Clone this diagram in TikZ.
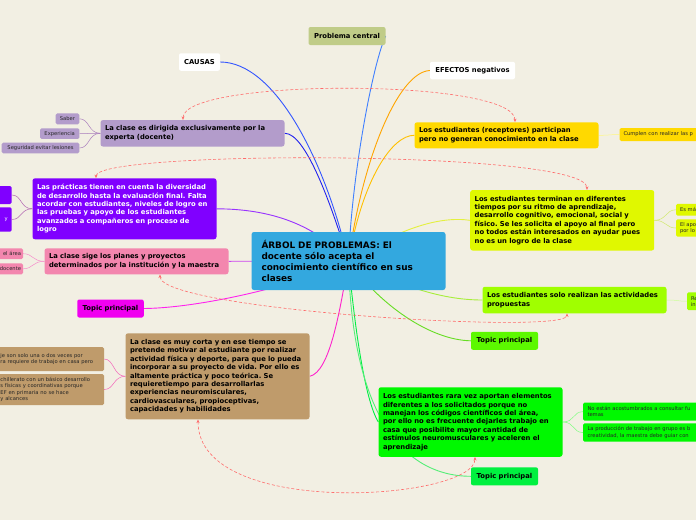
\documentclass[tikz,border=0pt]{standalone}
\usepackage{fontspec}
\setmainfont{DejaVu Sans}
\usetikzlibrary{arrows.meta}
\frenchspacing

\definecolor{bgpaper}{HTML}{F2EFE3}
\definecolor{centralblue}{HTML}{33A8DF}
\definecolor{olive}{HTML}{C0CC88}
\definecolor{lavender}{HTML}{B39CCB}
\definecolor{violetbox}{HTML}{8000FF}
\definecolor{pinkbox}{HTML}{F386AE}
\definecolor{magentatopic}{HTML}{F000F0}
\definecolor{brownbox}{HTML}{BF9B6B}
\definecolor{yellowbox}{HTML}{FFD900}
\definecolor{ygbox}{HTML}{E0F800}
\definecolor{limebox}{HTML}{A0FF00}
\definecolor{limetopic}{HTML}{5CF800}
\definecolor{greenbox}{HTML}{00F800}
\definecolor{greentopic}{HTML}{00F040}
\definecolor{linkred}{HTML}{FF6B6B}
% branch colours
\definecolor{problemaline}{HTML}{3F7FFF}
\definecolor{causasline}{HTML}{3355FF}
\definecolor{expertaline}{HTML}{2222EE}
\definecolor{efectosline}{HTML}{FFA500}
\definecolor{receptoresline}{HTML}{FFC000}
\definecolor{ritmoline}{HTML}{E4F040}
\definecolor{diversidadline}{HTML}{9933FF}
\definecolor{planesline}{HTML}{CC44EE}
\definecolor{topicmagline}{HTML}{FF22EE}
\definecolor{cortaline}{HTML}{FF22CC}
\definecolor{actividadesline}{HTML}{A8EE3A}
\definecolor{topiclimeline}{HTML}{66DD22}
\definecolor{codigosline}{HTML}{00EE44}
\definecolor{topicgreenline}{HTML}{55EE77}

\pgfdeclarelayer{paper}
\pgfdeclarelayer{edges}
\pgfsetlayers{paper,edges,main}

\begin{document}
\begin{tikzpicture}[x=1pt,y=-1pt,
  mainbox/.style={rounded corners=2.5pt, inner xsep=4.5pt, inner ysep=0pt, align=left, text width=175pt, font=\bfseries\fontsize{6.8}{8.4}\selectfont},
  tagbox/.style={rounded corners=2pt, inner sep=0pt, font=\bfseries\fontsize{6.8}{8}\selectfont},
  leaf/.style={rounded corners=1.5pt, inner xsep=4pt, inner ysep=0pt, align=left, text=black!85, font=\fontsize{5.2}{6.2}\selectfont},
  branch/.style={line width=0.9pt},
  twig/.style={line width=0.5pt},
  link/.style={dash pattern=on 3pt off 2pt, line width=0.6pt, color=linkred, {Stealth[length=3.5pt,width=3pt]}-{Stealth[length=3.5pt,width=3pt]}},
]
  \useasboundingbox (0,0) rectangle (696,520);
  \clip (0,0) rectangle (696,520);
  \begin{pgfonlayer}{paper}
    \fill[bgpaper] (0,0) rectangle (696,520);
  \end{pgfonlayer}

  % Central problem
  \node[mainbox, fill=centralblue, text width=174pt, inner xsep=10pt, minimum height=58pt,
        font=\bfseries\fontsize{8.9}{11}\selectfont] (central) at (348.5,261)
    {ÁRBOL DE PROBLEMAS: El\\ docente sólo acepta el\\ conocimiento científico en sus\\ clases};

  % Headings
  \node[tagbox, fill=olive, minimum width=77pt, minimum height=18pt] (problema) at (347,36) {Problema central};
  \node[tagbox, fill=white, minimum width=41pt, minimum height=17.5pt] (causas) at (199.5,62) {CAUSAS};
  \node[tagbox, fill=white, minimum width=85pt, minimum height=17.5pt] (efectos) at (472.5,70.5) {EFECTOS negativos};

  % Causes
  \node[mainbox, fill=lavender, minimum height=26.5pt] (experta) at (192.5,133.3)
    {La clase es dirigida exclusivamente por la\\ experta (docente)};
  \node[mainbox, fill=violetbox, text=white, minimum height=61pt] (diversidad) at (124.5,208.8)
    {Las prácticas tienen en cuenta la diversidad\\ de desarrollo hasta la evaluación final. Falta\\ acordar con estudiantes, niveles de logro en\\ las pruebas y apoyo de los estudiantes\\ avanzados a compañeros en proceso de\\ logro};
  \node[mainbox, fill=pinkbox, minimum height=26pt] (planes) at (136.5,261.3)
    {La clase sige los planes y proyectos\\ determinados por la institución y la maestra};
  \node[tagbox, fill=magentatopic, minimum width=66.5pt, minimum height=18pt] (topicmag) at (110.5,308.5) {Topic principal};
  \node[mainbox, fill=brownbox, minimum height=86pt] (corta) at (217.5,376.3)
    {La clase es muy corta y en ese tiempo se\\ pretende motivar al estudiante por realizar\\ actividad física y deporte, para que lo pueda\\ incorporar a su proyecto de vida. Por ello es\\ altamente práctica y poco teórica. Se\\ requieretiempo para desarrollarlas\\ experiencias neuromisculares,\\ cardiovasculares, propioceptivas,\\ capacidades y habilidades};

  % Effects
  \node[mainbox, fill=yellowbox, minimum height=26pt] (receptores) at (506.5,135.3)
    {Los estudiantes (receptores) participan\\ pero no generan conocimiento en la clase};
  \node[mainbox, fill=ygbox, minimum height=60.5pt] (ritmo) at (562.2,220.3)
    {Los estudiantes terminan en diferentes\\ tiempos por su ritmo de aprendizaje,\\ desarrollo cognitivo, emocional, social y\\ físico. Se les solicita el apoyo al final pero\\ no todos están interesados en ayudar pues\\ no es un logro de la clase};
  \node[mainbox, fill=limebox, minimum height=26.5pt] (actividades) at (574.5,300)
    {Los estudiantes solo realizan las actividades\\ propuestas};
  \node[tagbox, fill=limetopic, minimum width=67pt, minimum height=18pt] (topiclime) at (504.5,340.8) {Topic principal};
  \node[mainbox, fill=greenbox, minimum height=69.5pt] (codigos) at (470.5,422)
    {Los estudiantes rara vez aportan elementos\\ diferentes a los solicitados porque no\\ manejan los códigos científicos del área,\\ por ello no es frecuente dejarles trabajo en\\ casa que posibilite mayor cantidad de\\ estímulos neuromusculares y aceleren el\\ aprendizaje};
  \node[tagbox, fill=greentopic, minimum width=67pt, minimum height=18pt] (topicgreen) at (504.5,476.3) {Topic principal};

  % Leaves
  \node[leaf, fill=lavender, minimum width=23.6pt, minimum height=11pt, align=center] (saber) at (67.5,118.8) {Saber};
  \node[leaf, fill=lavender, minimum width=39.3pt, minimum height=10.7pt, align=center] (experiencia) at (59.7,133.6) {Experiencia};
  \node[leaf, fill=lavender, minimum width=77.6pt, minimum height=10.6pt, align=center] (seguridad) at (40.5,148) {Seguridad evitar lesiones};
  \node[leaf, fill=violetbox, minimum width=21.7pt, minimum height=18pt] (violetleafa) at (0.85,195) {};
  \node[leaf, fill=violetbox, text=white, text width=13.7pt, align=right, minimum height=24.4pt] (violetleafb) at (0.85,219.5) {y};
  \node[leaf, fill=pinkbox, inner xsep=2pt, text width=29pt, align=right, minimum height=10.7pt] (pinkleafa) at (6.5,253.7) {el área};
  \node[leaf, fill=pinkbox, inner xsep=2pt, text width=29pt, align=right, minimum height=11pt] (pinkleafb) at (6.5,268.8) {docente};
  \node[leaf, fill=brownbox, inner xsep=4.5pt, text width=99pt, minimum height=24pt] (brownleafa) at (50,359)
    {je son solo una o dos veces por\\ ra requiere de trabajo en casa pero};
  \node[leaf, fill=brownbox, inner xsep=4.5pt, text width=99pt, minimum height=31pt] (brownleafb) at (50,389.5)
    {chillerato con un básico desarrollo\\ s físicas y coordinativas porque\\ EF en primaria no se hace\\ y alcances};
  \node[leaf, fill=yellowbox, text width=83pt, minimum height=13pt] (yellowleaf) at (665,134.5) {Cumplen con realizar las p};
  \node[leaf, fill=ygbox, text width=26pt, minimum height=11.7pt] (ygleafa) at (693,209.8) {Es má};
  \node[leaf, fill=ygbox, text width=26pt, minimum height=17.4pt] (ygleafb) at (693,228) {El apo\\ por lo};
  \node[leaf, fill=limebox, text width=16pt, minimum height=17.7pt] (limeleaf) at (699,301.2) {Re\\ in};
  \node[leaf, fill=greenbox, inner xsep=4.5pt, text width=118pt, minimum height=18pt] (greenleafa) at (646.5,411.7)
    {No están acostumbrados a  consultar fu\\ temas};
  \node[leaf, fill=greenbox, inner xsep=4.5pt, text width=118pt, minimum height=18.4pt] (greenleafb) at (646.5,432.5)
    {La producción de trabajo en grupo es b\\ creatividad, la maestra debe guiar con};

  \begin{pgfonlayer}{edges}
    % Branches from the central problem
    \draw[branch, problemaline] (central.center) .. controls (352,170) and (374,60) .. (problema.east);
    \draw[branch, causasline] (central.center) .. controls (325,160) and (275,62) .. (causas.east);
    \draw[branch, expertaline] (central.center) .. controls (330,200) and (305,133) .. (experta.east);
    \draw[branch, efectosline] (central.center) .. controls (362,160) and (398,72) .. (efectos.west);
    \draw[branch, receptoresline] (central.center) .. controls (362,180) and (392,135) .. (receptores.west);
    \draw[branch, ritmoline] (central.center) .. controls (400,228) and (440,216) .. (ritmo.west);
    \draw[branch, diversidadline] (central.center) .. controls (320,230) and (280,209) .. (diversidad.east);
    \draw[branch, planesline] (central.center) -- (planes.east);
    \draw[branch, topicmagline] (central.center) .. controls (300,285) and (200,308) .. (topicmag.east);
    \draw[branch, cortaline] (central.center) .. controls (340,310) and (330,372) .. (corta.east);
    \draw[branch, actividadesline] (central.center) .. controls (400,285) and (440,300) .. (actividades.west);
    \draw[branch, topiclimeline] (central.center) .. controls (380,305) and (430,340) .. (topiclime.west);
    \draw[branch, codigosline] (central.center) .. controls (355,330) and (365,400) .. (codigos.west);
    \draw[branch, topicgreenline] (central.center) .. controls (352,410) and (400,476) .. (topicgreen.west);

    % Leaf twigs
    \foreach \leafname in {saber,experiencia,seguridad}
      \draw[twig, color=lavender!80!violet] (experta.west) .. controls +(-12,0) and +(10,0) .. (\leafname.east);
    \foreach \leafname in {violetleafa,violetleafb}
      \draw[twig, color=violet!60] (diversidad.west) .. controls +(-12,0) and +(10,0) .. (\leafname.east);
    \foreach \leafname in {pinkleafa,pinkleafb}
      \draw[twig, color=magenta!45] (planes.west) .. controls +(-12,0) and +(10,0) .. (\leafname.east);
    \foreach \leafname in {brownleafa,brownleafb}
      \draw[twig, color=magenta!60] (corta.west) .. controls +(-12,0) and +(10,0) .. (\leafname.east);
    \draw[twig, color=yellow!50] (receptores.east) .. controls +(12,0) and +(-10,0) .. (yellowleaf.west);
    \foreach \leafname in {ygleafa,ygleafb}
      \draw[twig, color=yellow!70!green!60] (ritmo.east) .. controls +(12,0) and +(-10,0) .. (\leafname.west);
    \draw[twig, color=green!50!yellow!40] (actividades.east) .. controls +(12,0) and +(-10,0) .. (limeleaf.west);
    \foreach \leafname in {greenleafa,greenleafb}
      \draw[twig, color=green!50] (codigos.east) .. controls +(12,0) and +(-10,0) .. (\leafname.west);
  \end{pgfonlayer}

  % Relationship links
  \draw[link] ([xshift=-9.5pt]experta.north) .. controls (183,78) and (515,78) .. ([xshift=8.5pt]receptores.north);
  \draw[link] ([xshift=-28.5pt]diversidad.north) .. controls (96,150) and (587,150) .. ([xshift=24.8pt]ritmo.north);
  \draw[link] ([xshift=23.5pt]planes.south) .. controls (160,310) and (567,335) .. ([xshift=-7.5pt]actividades.south);
  \draw[link] ([xshift=-19.5pt]corta.south) .. controls (198,520) and (475,500) .. ([xshift=4.5pt]codigos.south);

\end{tikzpicture}
\end{document}
